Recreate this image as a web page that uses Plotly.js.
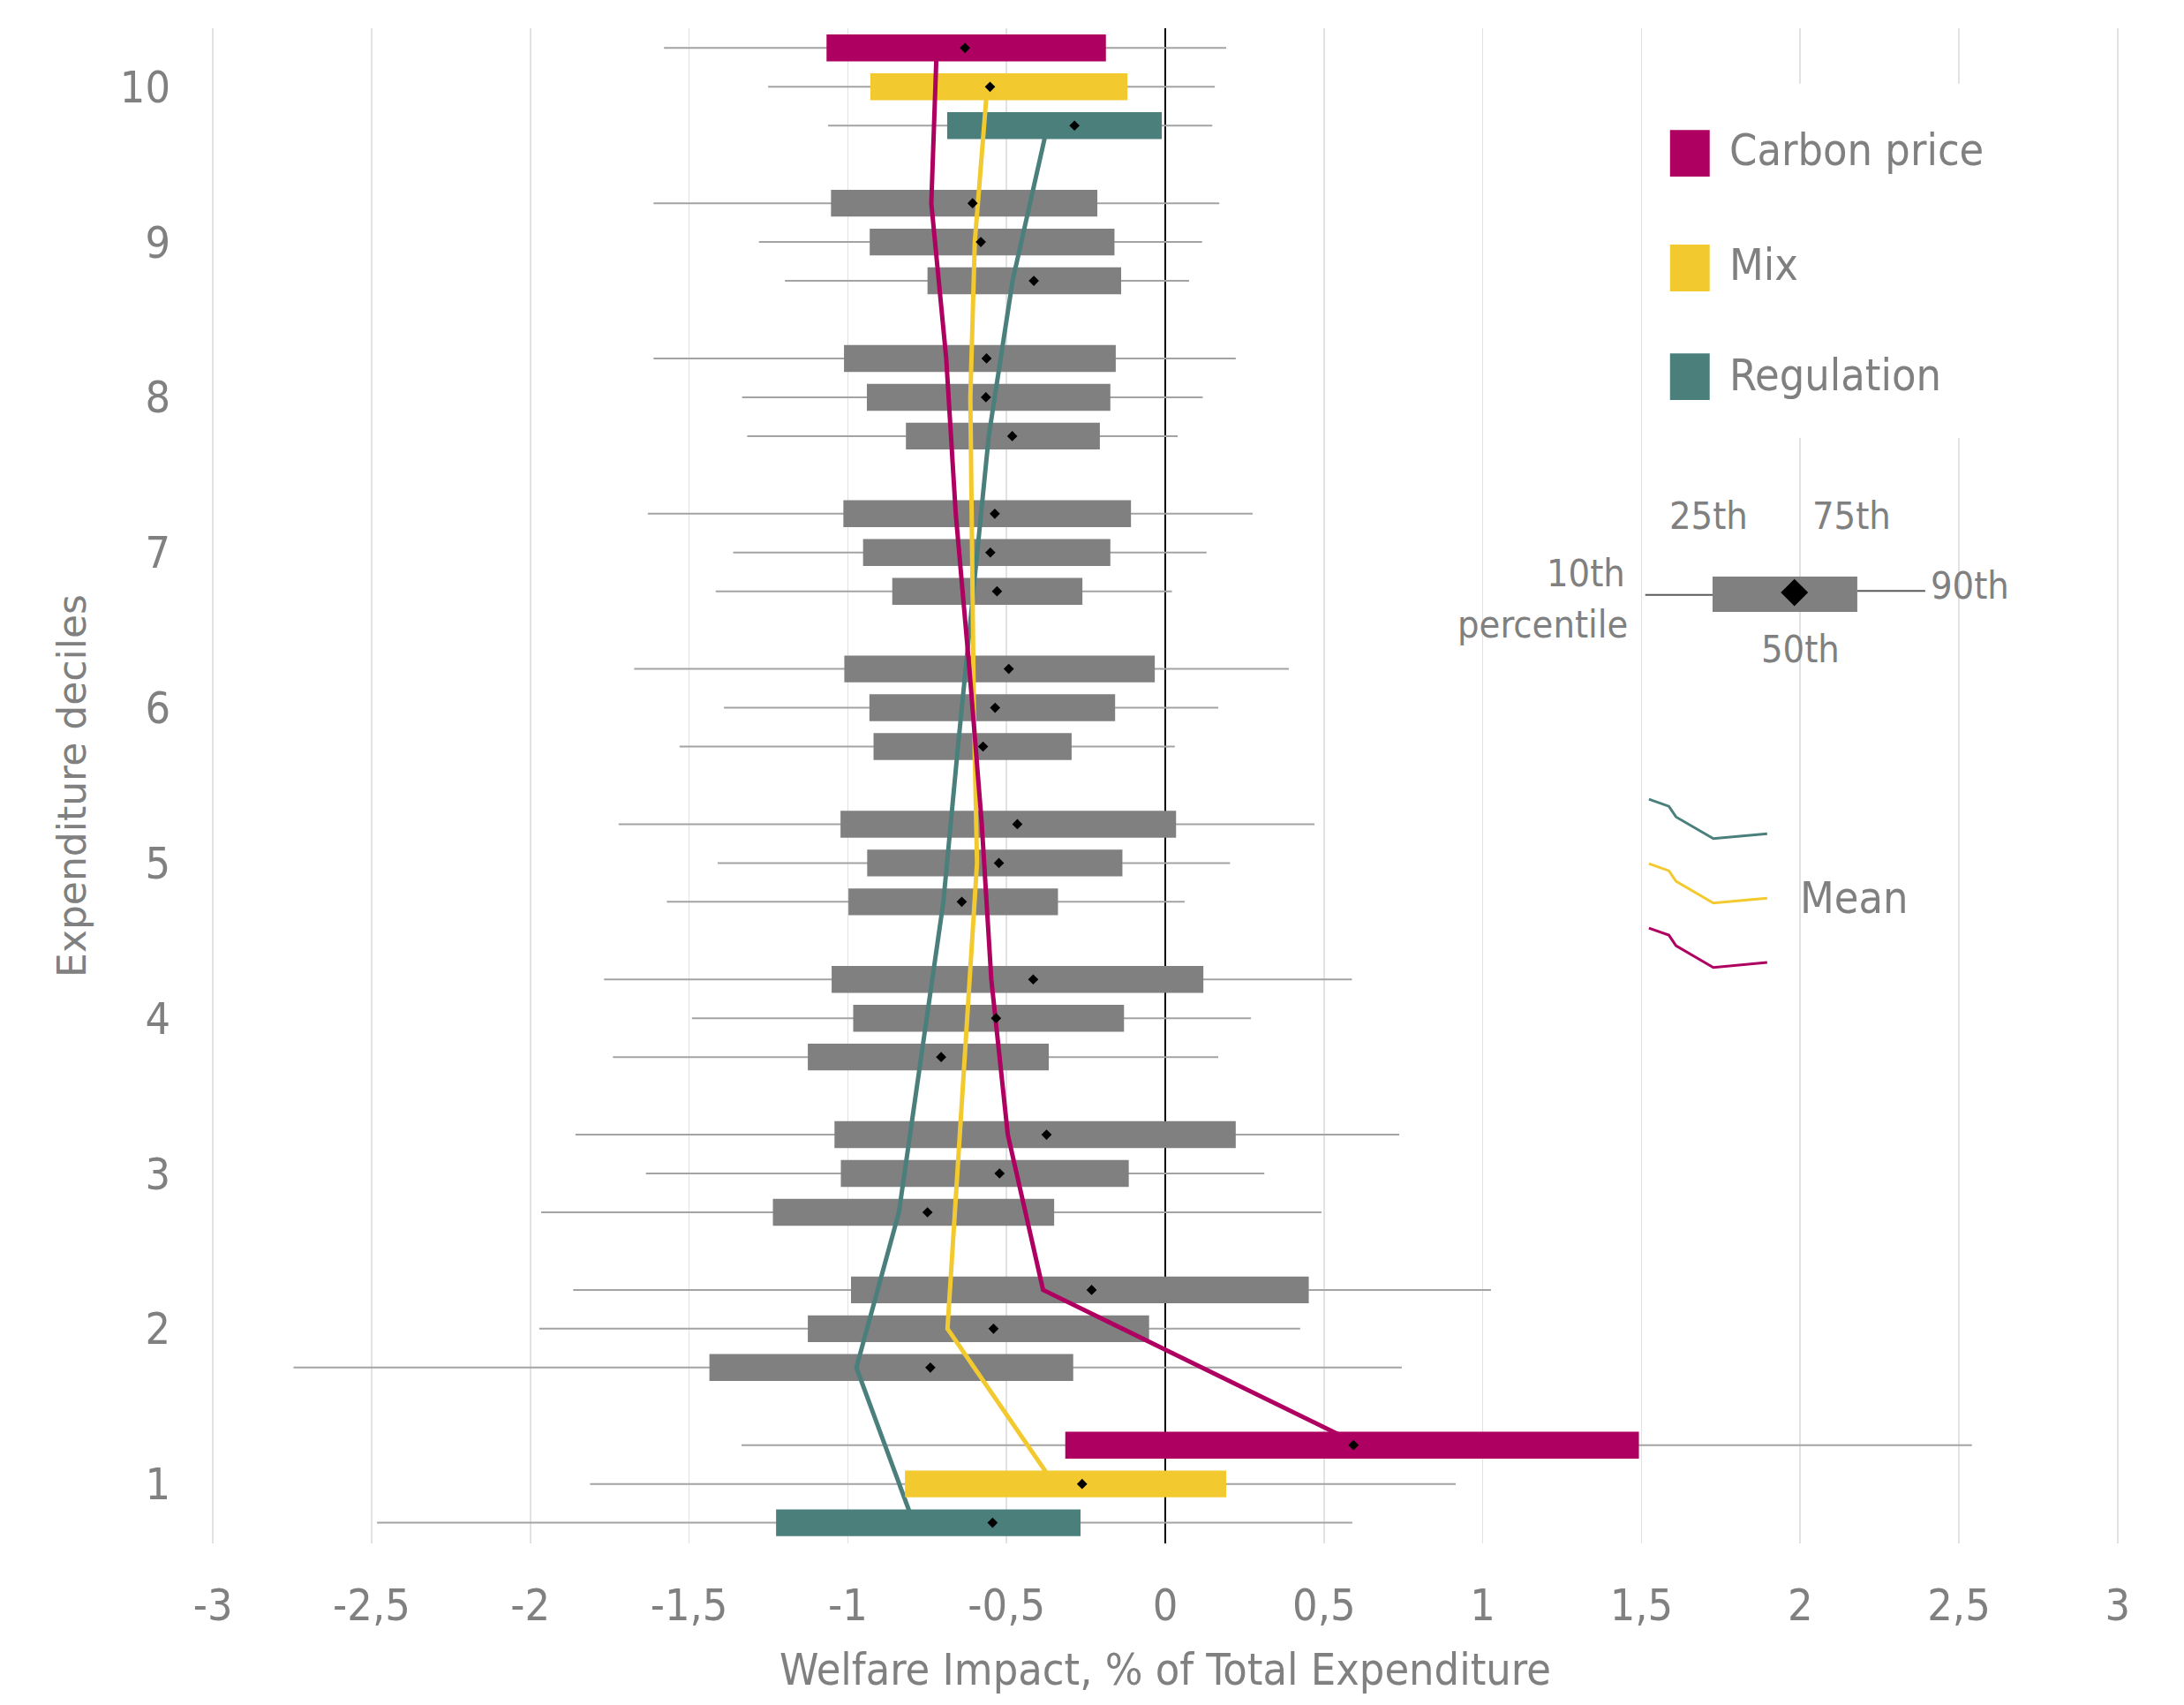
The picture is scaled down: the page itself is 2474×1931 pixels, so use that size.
<!DOCTYPE html>
<html>
<head>
<meta charset="utf-8">
<script src="https://cdn.plot.ly/plotly-3.0.1.min.js"></script>
<style>html,body{margin:0;padding:0;background:#fff;}#chart{width:2474px;height:1931px;}</style>
</head>
<body>
<div id="chart"></div>
<script>
// ---------- DATA (ordered decile 1 .. 10) ----------
const deciles = [1, 2, 3, 4, 5, 6, 7, 8, 9, 10];
const seriesNames = ["Carbon price", "Mix", "Regulation"];

const carbonP10 = [-1.335, -1.865, -1.858, -1.768, -1.722, -1.673, -1.630, -1.612, -1.612, -1.579];
const carbonP25 = [-0.315, -0.990, -1.042, -1.051, -1.023, -1.011, -1.014, -1.012, -1.053, -1.067];
const carbonP50 = [0.593, -0.232, -0.374, -0.416, -0.466, -0.493, -0.537, -0.563, -0.607, -0.631];
const carbonP75 = [1.492, 0.452, 0.222, 0.120, 0.034, -0.033, -0.108, -0.156, -0.214, -0.187];
const carbonP90 = [2.541, 1.026, 0.737, 0.588, 0.470, 0.389, 0.275, 0.222, 0.170, 0.192];
const carbonMean = [0.615, -0.385, -0.496, -0.548, -0.578, -0.617, -0.660, -0.690, -0.737, -0.720];

const mixP10 = [-1.812, -1.972, -1.636, -1.491, -1.410, -1.390, -1.361, -1.333, -1.280, -1.251];
const mixP25 = [-0.820, -1.126, -1.022, -0.983, -0.939, -0.932, -0.952, -0.940, -0.931, -0.929];
const mixP50 = [-0.262, -0.541, -0.522, -0.533, -0.524, -0.536, -0.551, -0.565, -0.581, -0.552];
const mixP75 = [0.192, -0.051, -0.115, -0.130, -0.135, -0.158, -0.173, -0.173, -0.160, -0.119];
const mixP90 = [0.915, 0.425, 0.312, 0.270, 0.204, 0.167, 0.130, 0.118, 0.116, 0.156];
const mixMean = [-0.350, -0.686, -0.655, -0.624, -0.593, -0.603, -0.610, -0.614, -0.600, -0.561];

const regP10 = [-2.483, -2.746, -1.966, -1.740, -1.570, -1.530, -1.416, -1.317, -1.198, -1.062];
const regP25 = [-1.226, -1.436, -1.236, -1.126, -0.998, -0.919, -0.860, -0.817, -0.749, -0.687];
const regP50 = [-0.544, -0.740, -0.749, -0.706, -0.641, -0.574, -0.530, -0.482, -0.414, -0.286];
const regP75 = [-0.267, -0.290, -0.350, -0.367, -0.338, -0.295, -0.261, -0.206, -0.139, -0.011];
const regP90 = [0.589, 0.745, 0.492, 0.167, 0.061, 0.030, 0.021, 0.039, 0.075, 0.148];
const regMean = [-0.793, -0.973, -0.839, -0.768, -0.699, -0.653, -0.605, -0.556, -0.481, -0.371];

const highlightDeciles = [1, 10];
const xTickVals = [-3, -2.5, -2, -1.5, -1, -0.5, 0, 0.5, 1, 1.5, 2, 2.5, 3];
const xTickText = ["-3", "-2,5", "-2", "-1,5", "-1", "-0,5", "0", "0,5", "1", "1,5", "2", "2,5", "3"];
const legendPercentiles = ["10th", "percentile", "25th", "75th", "90th", "50th"];

// ---------- STYLE ----------
const COLORS = {carbon: "#AE0060", mix: "#F2CA30", reg: "#4A7F7C"};
const GRAY_BOX = "#808080";
const TEXT_GRAY = "#808080";
const COND = "DejaVu Sans Condensed, Liberation Sans Narrow, Arial Narrow, DejaVu Sans, sans-serif";
const OFFSET = {carbon: 0.25, mix: 0, reg: -0.25};
const HALF = 0.0865;

const series = [
  {key: "carbon", p10: carbonP10, p25: carbonP25, p50: carbonP50, p75: carbonP75, p90: carbonP90, mean: carbonMean},
  {key: "mix", p10: mixP10, p25: mixP25, p50: mixP50, p75: mixP75, p90: mixP90, mean: mixMean},
  {key: "reg", p10: regP10, p25: regP25, p50: regP50, p75: regP75, p90: regP90, mean: regMean}
];

function yOf(s, i) { return deciles[i] + OFFSET[s.key]; }

// whiskers
const wx = [], wy = [];
series.forEach(s => deciles.forEach((d, i) => {
  wx.push(s.p10[i], s.p90[i], null);
  wy.push(yOf(s, i), yOf(s, i), null);
}));

function boxes(filterFn, list) {
  const bx = [], by = [];
  list.forEach(s => deciles.forEach((d, i) => {
    if (!filterFn(d)) return;
    const y = yOf(s, i);
    bx.push(s.p25[i], s.p75[i], s.p75[i], s.p25[i], s.p25[i], null);
    by.push(y - HALF, y - HALF, y + HALF, y + HALF, y - HALF, null);
  }));
  return {x: bx, y: by};
}

const traces = [];
traces.push({type: "scatter", mode: "lines", x: wx, y: wy, line: {color: "#a3a3a3", width: 2}, hoverinfo: "skip", showlegend: false});
const g = boxes(d => highlightDeciles.indexOf(d) < 0, series);
traces.push({type: "scatter", mode: "lines", x: g.x, y: g.y, fill: "toself", fillcolor: GRAY_BOX, line: {width: 0, color: GRAY_BOX}, hoverinfo: "skip", showlegend: false});

// mean lines + highlighted boxes, drawn per series (regulation, mix, carbon)
[series[2], series[1], series[0]].forEach(s => {
  traces.push({type: "scatter", mode: "lines", x: s.mean, y: deciles.map((d, i) => yOf(s, i)),
    line: {color: COLORS[s.key], width: 5}, hoverinfo: "skip", showlegend: false});
  const c = boxes(d => highlightDeciles.indexOf(d) >= 0, [s]);
  traces.push({type: "scatter", mode: "lines", x: c.x, y: c.y, fill: "toself", fillcolor: COLORS[s.key],
    line: {width: 0, color: COLORS[s.key]}, hoverinfo: "skip", showlegend: false});
});

// medians
const mx = [], my = [];
series.forEach(s => deciles.forEach((d, i) => { mx.push(s.p50[i]); my.push(yOf(s, i)); }));
traces.push({type: "scatter", mode: "markers", x: mx, y: my, marker: {symbol: "diamond", size: 9, color: "#000"}, hoverinfo: "skip", showlegend: false});

// ---------- LEGEND (decorative shapes & texts) ----------
const shapes = [];
shapes.push({type: "rect", xref: "x", yref: "y", x0: 1.56, x1: 2.9, y0: 7.74, y1: 10.02, fillcolor: "#fff", line: {width: 0}, layer: "between"});
const legY = [[9.421, 9.722, 9.592], [8.682, 8.983, 8.852], [7.982, 8.283, 8.141]];
const legKeys = ["carbon", "mix", "reg"];
const annotations = [];
legKeys.forEach((k, j) => {
  shapes.push({type: "rect", xref: "x", yref: "y", x0: 1.590, x1: 1.715, y0: legY[j][0], y1: legY[j][1], fillcolor: COLORS[k], line: {width: 0}});
  annotations.push({xref: "x", yref: "y", x: 1.771, y: legY[j][2], text: seriesNames[j], showarrow: false, xanchor: "left", yanchor: "middle",
    font: {family: COND, size: 50, color: TEXT_GRAY}});
});
// percentile schematic
shapes.push({type: "line", xref: "x", yref: "y", x0: 1.512, x1: 1.724, y0: 6.727, y1: 6.727, line: {color: "#5a5a5a", width: 2}});
shapes.push({type: "line", xref: "x", yref: "y", x0: 2.180, x1: 2.394, y0: 6.753, y1: 6.753, line: {color: "#5a5a5a", width: 2}});
shapes.push({type: "rect", xref: "x", yref: "y", x0: 1.724, x1: 2.180, y0: 6.617, y1: 6.845, fillcolor: GRAY_BOX, line: {width: 0}});
shapes.push({type: "path", xref: "x", yref: "y", path: "M 1.939 6.742 L 1.982 6.830 L 2.025 6.742 L 1.982 6.654 Z", fillcolor: "#000", line: {width: 0}});
const pctPos = [
  {x: 1.455, y: 6.867, xa: "right"}, {x: 1.462, y: 6.540, xa: "right"},
  {x: 1.711, y: 7.237, xa: "center"}, {x: 2.163, y: 7.237, xa: "center"},
  {x: 2.405, y: 6.790, xa: "left"}, {x: 2.001, y: 6.378, xa: "center"}
];
legendPercentiles.forEach((t, j) => annotations.push({xref: "x", yref: "y", x: pctPos[j].x, y: pctPos[j].y, text: t, showarrow: false,
  xanchor: pctPos[j].xa, yanchor: "middle", font: {family: COND, size: 43, color: TEXT_GRAY}}));
// mean schematic
const meanShapeX = [1.5235, 1.5864, 1.6089, 1.7265, 1.896];
const meanShapeY = [5.4107, 5.3652, 5.2969, 5.1570, 5.1889];
["reg", "mix", "carbon"].forEach((k, j) => {
  const p = meanShapeX.map((x, i) => (i ? "L " : "M ") + x + " " + (meanShapeY[i] - 0.415 * j)).join(" ");
  shapes.push({type: "path", xref: "x", yref: "y", path: p, line: {color: COLORS[k], width: 3}});
});
annotations.push({xref: "x", yref: "y", x: 1.993, y: 4.774, text: "Mean", showarrow: false, xanchor: "left", yanchor: "middle",
  font: {family: COND, size: 50, color: TEXT_GRAY}});

const layout = {
  width: 2474, height: 1931,
  margin: {l: 234, r: 68, t: 32, b: 183},
  paper_bgcolor: "#fff", plot_bgcolor: "#fff",
  showlegend: false,
  xaxis: {
    range: [-3.02, 3.02], tickvals: xTickVals, ticktext: xTickText, ticks: "",
    showgrid: true, gridcolor: "#e2e2e2", gridwidth: 1.5,
    zeroline: true, zerolinecolor: "#000", zerolinewidth: 2, showline: false,
    tickfont: {family: COND, size: 50, color: TEXT_GRAY}, ticklabelstandoff: 36,
    title: {text: "Welfare Impact, % of Total Expenditure", font: {family: COND, size: 50, color: TEXT_GRAY}, standoff: 26}
  },
  yaxis: {
    range: [0.617, 10.377], tickvals: deciles, ticks: "",
    showgrid: false, zeroline: false, showline: false,
    tickfont: {family: COND, size: 50, color: TEXT_GRAY}, ticklabelstandoff: 40,
    title: {text: "Expenditure deciles", font: {family: "DejaVu Sans, sans-serif", size: 44, color: TEXT_GRAY}, standoff: 24}
  },
  shapes: shapes,
  annotations: annotations
};

Plotly.newPlot("chart", traces, layout, {staticPlot: true, displayModeBar: false});
</script>
</body>
</html>
